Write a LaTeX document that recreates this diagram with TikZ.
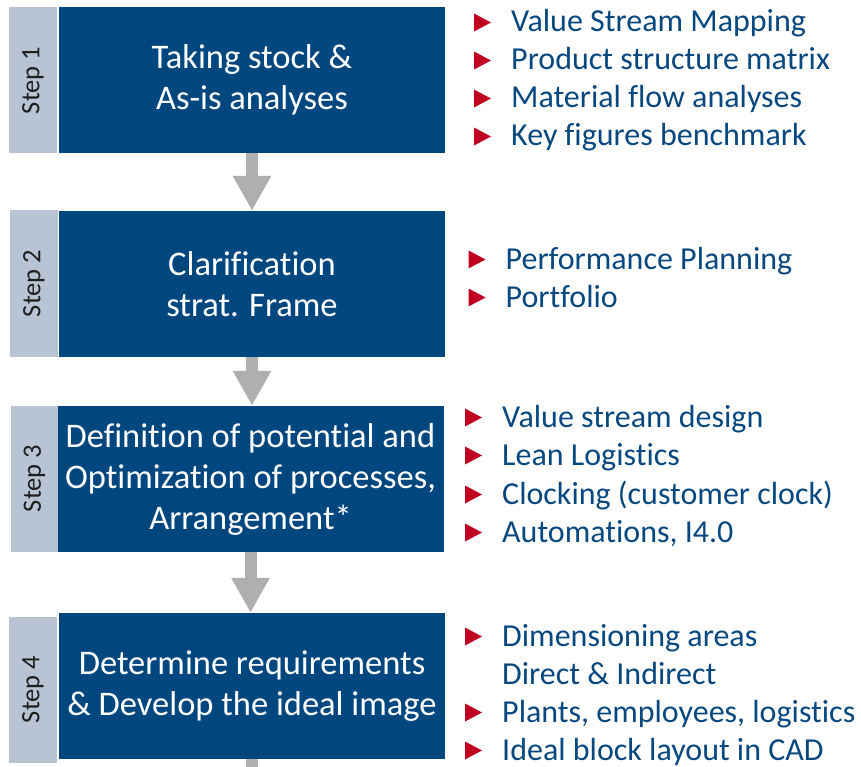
\documentclass[tikz,border=0pt]{standalone}
\usepackage{fontspec}
\setmainfont{Carlito}[Ligatures=NoCommon]
\usetikzlibrary{arrows.meta,calc}
\definecolor{boxblue}{RGB}{0,70,127}
\definecolor{tabgray}{RGB}{184,195,211}
\definecolor{arrowgray}{RGB}{175,175,175}
\definecolor{bulletred}{RGB}{192,0,32}
\definecolor{textblue}{RGB}{8,72,128}
\definecolor{labelgray}{RGB}{30,30,30}
\begin{document}
\begin{tikzpicture}[x=1pt,y=-1pt,
  stepbox/.style={fill=boxblue, text=white, minimum width=386pt, minimum height=146pt,
    inner sep=0pt, align=center, font=\fontsize{34.5}{41}\selectfont},
  tabbox/.style={fill=tabgray, rotate=90, minimum width=146pt, minimum height=48pt,
    inner sep=0pt, text=labelgray, font=\fontsize{26.5}{30}\selectfont},
  item/.style={anchor=base west, inner sep=0pt, text=textblue, font=\fontsize{32}{38}\selectfont},
  flow/.style={draw=arrowgray, line width=12pt, -{Triangle[width=36pt,length=35pt]}},
  shaft/.style={draw=arrowgray, line width=12pt},
  itembullet/.pic={\fill[bulletred] (-37,-18.5) -- (-20,-9.5) -- (-37,-0.5) -- cycle;}
]
\useasboundingbox (0,0) rectangle (861,767);

% Step 1
\node[tabbox] (t1) at (33,80.5) {Step 1};
\node[stepbox] (b1) at (252,80) {Taking stock \&\\As-is analyses};
% Step 2
\node[tabbox] (t2) at (34,283.5) {Step 2};
\node[stepbox] (b2) at (252,284) {Clarification\\strat. Frame};
% Step 3
\node[tabbox] (t3) at (34.5,478.5) {Step 3};
\node[stepbox] (b3) at (250.5,479) {Definition of potential and\\Optimization of processes,\\Arrangement*};
% Step 4
\node[tabbox] (t4) at (33,689.5) {Step 4};
\node[stepbox] (b4) at (252,686) {Determine requirements\\\& Develop the ideal image};

% arrows
\draw[flow] (b1.south) -- (b2.north);
\draw[flow] (b2.south) -- (b2.south |- b3.north);
\draw[flow] (b3.south) -- (b3.south |- b4.north);
\coordinate (bottomend) at (252,775);
\draw[shaft] (b4.south) -- (b4.south |- bottomend);

% bullets step 1
\node[item] (i11) at (511,32) {Value Stream Mapping};
\node[item] (i12) at (511,70) {Product structure matrix};
\node[item] (i13) at (511,108) {Material flow analyses};
\node[item] (i14) at (511,146) {Key figures benchmark};
\foreach \n in {i11,i12,i13,i14} \pic at (\n.base west) {itembullet};

% bullets step 2
\node[item] (i21) at (505.5,269) {Performance Planning};
\node[item] (i22) at (505.5,307) {Portfolio};
\foreach \n in {i21,i22} \pic at (\n.base west) {itembullet};

% bullets step 3
\node[item] (i31) at (502,427) {Value stream design};
\node[item] (i32) at (502,465) {Lean Logistics};
\node[item] (i33) at (502,504) {Clocking (customer clock)};
\node[item] (i34) at (502,542) {Automations, I4.0};
\foreach \n in {i31,i32,i33,i34} \pic at (\n.base west) {itembullet};

% bullets step 4
\node[item] (i41) at (502,646) {Dimensioning areas};
\node[item] (i41b) at (502,684) {Direct \& Indirect};
\node[item] (i42) at (502,722) {Plants, employees, logistics};
\node[item] (i43) at (502,760) {Ideal block layout in CAD};
\foreach \n in {i41,i42,i43} \pic at (\n.base west) {itembullet};
\end{tikzpicture}
\end{document}
